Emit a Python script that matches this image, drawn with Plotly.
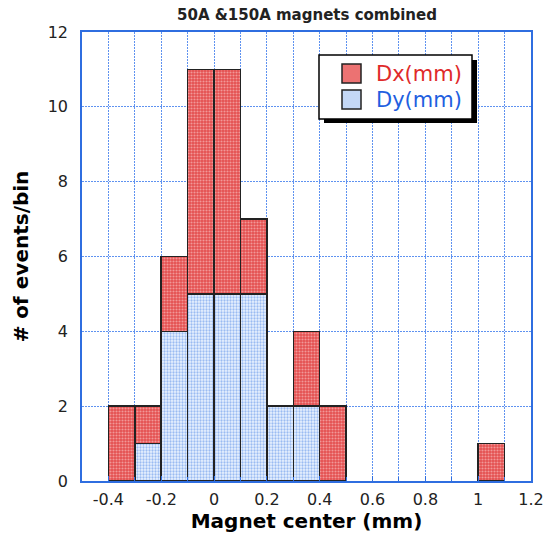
import plotly.graph_objects as go

bin_centers = [-0.35, -0.25, -0.15, -0.05, 0.05, 0.15, 0.25, 0.35, 0.45, 1.05]
dy_counts = [None, 1, 4, 5, 5, 5, 2, 2, None, None]
dx_counts = [2, 1, 2, 6, 6, 2, None, 2, 2, 1]

x_ticks = [-0.4, -0.2, 0, 0.2, 0.4, 0.6, 0.8, 1, 1.2]
y_ticks = [0, 2, 4, 6, 8, 10, 12]

legend_labels = ["Dx(mm)", "Dy(mm)"]

FONT = "DejaVu Sans"
GRID = "#5f92f0"
FRAME = "#2f6ee0"
RED_TXT = "#e02a2a"
BLUE_TXT = "#1f5fe0"

# plot-area geometry (pixels) used only for placing the hand-drawn legend box
L, R, T, B = 82, 531, 32, 481
def px(xp):
    return (xp - L) / (R - L)
def py(yp):
    return (B - yp) / (B - T)

fig = go.Figure()
fig.add_trace(go.Bar(
    x=bin_centers, y=dy_counts, name=legend_labels[1], width=0.1, showlegend=False,
    marker=dict(color="#c0d6f6", line=dict(color="#222222", width=1.5),
                pattern=dict(shape=".", fgcolor="#4a84e6", bgcolor="#eaf2fe", size=3, solidity=0.45)),
))
fig.add_trace(go.Bar(
    x=bin_centers, y=dx_counts, name=legend_labels[0], width=0.1, showlegend=False,
    marker=dict(color="#ec7070", line=dict(color="#222222", width=1.5),
                pattern=dict(shape=".", fgcolor="#fde0e0", bgcolor="#e45050", size=3, solidity=0.4)),
))

shapes = [
    dict(type="rect", xref="paper", yref="paper", x0=px(324), x1=px(477), y0=py(123), y1=py(60),
         fillcolor="black", line=dict(width=0), layer="above"),
    dict(type="rect", xref="paper", yref="paper", x0=px(319), x1=px(472), y0=py(119), y1=py(55),
         fillcolor="white", line=dict(color="black", width=1.5), layer="above"),
    dict(type="rect", xref="paper", yref="paper", x0=px(342), x1=px(361), y0=py(83), y1=py(64),
         fillcolor="#ec7272", line=dict(color="#222222", width=1.5), layer="above"),
    dict(type="rect", xref="paper", yref="paper", x0=px(342), x1=px(361), y0=py(109), y1=py(90),
         fillcolor="#c4d8f6", line=dict(color="#222222", width=1.5), layer="above"),
]
annotations = [
    dict(xref="paper", yref="paper", x=px(374), y=py(74), xanchor="left", yanchor="middle",
         text=legend_labels[0], showarrow=False, font=dict(family=FONT, size=21, color=RED_TXT)),
    dict(xref="paper", yref="paper", x=px(374), y=py(100), xanchor="left", yanchor="middle",
         text=legend_labels[1], showarrow=False, font=dict(family=FONT, size=21, color=BLUE_TXT)),
]

fig.update_layout(
    barmode="stack",
    width=543, height=536,
    margin=dict(l=L, r=543 - R, t=T, b=536 - B, autoexpand=False),
    paper_bgcolor="white", plot_bgcolor="white",
    font=dict(family=FONT, color="#222222"),
    title=dict(text="50A &150A magnets combined", x=307 / 543, xanchor="center",
               y=1 - 15/536, yanchor="middle", automargin=False,
               font=dict(family=FONT, size=15, color="#222222", weight="bold")),
    showlegend=False,
    shapes=shapes,
    annotations=annotations,
)
fig.update_xaxes(
    range=[-0.5, 1.2], tickvals=x_ticks, ticktext=[f"{v:g}" for v in x_ticks],
    automargin=False, ticklabeloverflow="allow", ticklabelstandoff=3,
    showgrid=True, gridcolor=GRID, griddash="2px,1px", gridwidth=1,
    minor=dict(dtick=0.1, tick0=0, showgrid=True, gridcolor=GRID, griddash="2px,1px",
               ticks="inside", ticklen=4, tickcolor=FRAME),
    ticks="inside", ticklen=5, tickcolor=FRAME,
    showline=True, linecolor=FRAME, linewidth=1.5, mirror=True,
    zeroline=False,
    tickfont=dict(family=FONT, size=16, color="#222222"),
    title=dict(text="Magnet center (mm)", standoff=1,
               font=dict(family=FONT, size=20, color="black", weight="bold")),
)
fig.update_yaxes(
    range=[0, 12], tickvals=y_ticks,
    automargin=False, ticklabelstandoff=9,
    showgrid=True, gridcolor=GRID, griddash="2px,1px", gridwidth=1,
    ticks="", showline=True, linecolor=FRAME, linewidth=1.5, mirror=True,
    zeroline=False,
    tickfont=dict(family=FONT, size=16, color="#222222"),
    title=dict(text="# of events/bin", standoff=14,
               font=dict(family=FONT, size=20, color="black", weight="bold")),
)

fig.write_html("out.html")
